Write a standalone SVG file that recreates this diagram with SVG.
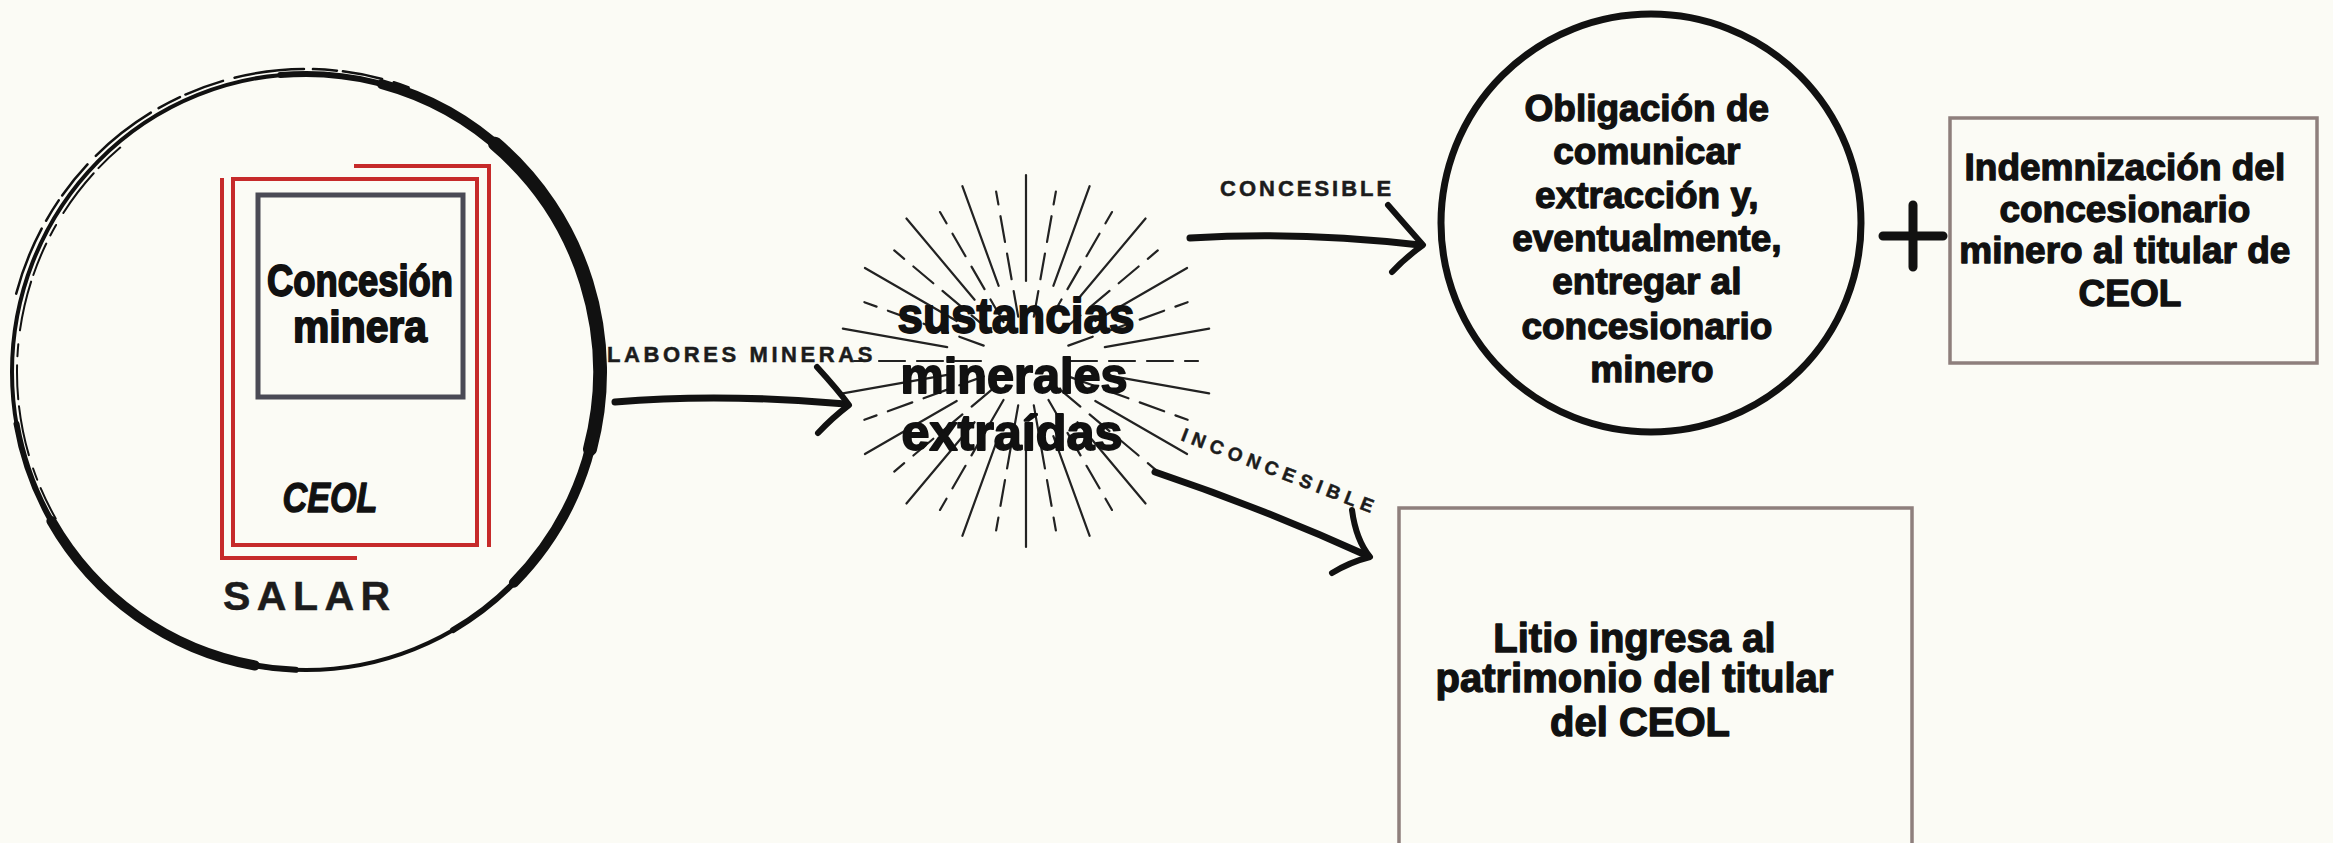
<svg xmlns="http://www.w3.org/2000/svg" width="2333" height="843" viewBox="0 0 2333 843">
<defs>
<style>
.bg{fill:#fbfbf5}
.hand{font-family:"Liberation Sans",Arial,sans-serif;font-weight:bold;fill:#111;text-anchor:middle;stroke:#111;stroke-width:1.3;stroke-linejoin:round}
.heavy{stroke-width:1.8}
.lbl{font-family:"Liberation Sans",Arial,sans-serif;font-weight:bold;fill:#1c1c1c;stroke:#1c1c1c;stroke-width:0.5}
.red{fill:none;stroke:#c62a2a;stroke-width:4}
.gray{fill:none;stroke:#4a4a55;stroke-width:5}
.box{fill:none;stroke:#8e7f7c;stroke-width:3.5}
.ray{stroke:#222;stroke-width:2.2;stroke-linecap:round;fill:none}
.dash{stroke-dasharray:26 12}
.shaft{fill:none;stroke:#111;stroke-width:7;stroke-linecap:round}
.head{fill:none;stroke:#111;stroke-width:6;stroke-linecap:round;stroke-linejoin:round}
.ink{fill:none;stroke:#111;stroke-linecap:round}
</style>
<line id="rs" x1="1026" y1="281" x2="1026" y2="175"/>
<line id="rd" x1="1026" y1="316" x2="1026" y2="189"/>
</defs>
<rect class="bg" x="0" y="0" width="2333" height="843"/>

<g id="salar">
<ellipse class="ink" cx="306" cy="372" rx="294" ry="298" stroke-width="4"/>
<path class="ink" stroke-width="6" d="M280.4,75.1 A294,298 0 0,1 453,630.1"/>
<path class="ink" stroke-width="10" d="M382.1,84.2 A294,298 0 0,1 513.9,582.7"/>
<path class="ink" stroke-width="14" d="M495,143.7 A294,298 0 0,1 590,449.1"/>
<path class="ink" stroke-width="6" d="M16.5,423.7 A294,298 0 0,0 295.7,669.8"/>
<path class="ink" stroke-width="10" d="M51.4,521 A294,298 0 0,0 255,665.5"/>
<path class="ink" stroke-width="2.5" stroke-dasharray="70 9 24 6 40 12" d="M16.2,293.6 A300,303 0 0,1 408.6,87.3"/>
<path class="ink" stroke-width="2" stroke-dasharray="34 9 12 14 50 7" d="M55.7,518.5 A289,293 0 0,1 120.2,147.6"/>
<text class="lbl" x="223" y="610" font-size="41" letter-spacing="6.5">SALAR</text>
</g>

<g id="ceol">
<path class="red" d="M354,166 H489 V547"/>
<path class="red" d="M222,178 V558 H357"/>
<rect class="red" x="233" y="179" width="244" height="366"/>
<text class="hand" x="330" y="512" font-size="42" font-style="italic" textLength="95" lengthAdjust="spacingAndGlyphs">CEOL</text>
</g>

<g id="concesion">
<rect class="gray" x="258" y="195" width="205" height="202"/>
<text class="hand heavy" x="360" y="296" font-size="44" textLength="186" lengthAdjust="spacingAndGlyphs">Concesión</text>
<text class="hand heavy" x="360" y="342" font-size="44" textLength="134" lengthAdjust="spacingAndGlyphs">minera</text>
</g>

<g id="sustancias">
<g class="ray">
<use href="#rs"/>
<use href="#rs" transform="rotate(20 1026 361)"/>
<use href="#rs" transform="rotate(40 1026 361)"/>
<use href="#rs" transform="rotate(60 1026 361)"/>
<use href="#rs" transform="rotate(80 1026 361)"/>
<use href="#rs" transform="rotate(100 1026 361)"/>
<use href="#rs" transform="rotate(120 1026 361)"/>
<use href="#rs" transform="rotate(140 1026 361)"/>
<use href="#rs" transform="rotate(160 1026 361)"/>
<use href="#rs" transform="rotate(180 1026 361)"/>
<use href="#rs" transform="rotate(200 1026 361)"/>
<use href="#rs" transform="rotate(220 1026 361)"/>
<use href="#rs" transform="rotate(240 1026 361)"/>
<use href="#rs" transform="rotate(260 1026 361)"/>
<use href="#rs" transform="rotate(280 1026 361)"/>
<use href="#rs" transform="rotate(300 1026 361)"/>
<use href="#rs" transform="rotate(320 1026 361)"/>
<use href="#rs" transform="rotate(340 1026 361)"/>
</g>
<g class="ray dash">
<use href="#rd" transform="rotate(10 1026 361)"/>
<use href="#rd" transform="rotate(30 1026 361)"/>
<use href="#rd" transform="rotate(50 1026 361)"/>
<use href="#rd" transform="rotate(70 1026 361)"/>
<use href="#rd" transform="rotate(90 1026 361)"/>
<use href="#rd" transform="rotate(110 1026 361)"/>
<use href="#rd" transform="rotate(130 1026 361)"/>
<use href="#rd" transform="rotate(150 1026 361)"/>
<use href="#rd" transform="rotate(170 1026 361)"/>
<use href="#rd" transform="rotate(190 1026 361)"/>
<use href="#rd" transform="rotate(210 1026 361)"/>
<use href="#rd" transform="rotate(230 1026 361)"/>
<use href="#rd" transform="rotate(250 1026 361)"/>
<use href="#rd" transform="rotate(270 1026 361)"/>
<use href="#rd" transform="rotate(290 1026 361)"/>
<use href="#rd" transform="rotate(310 1026 361)"/>
<use href="#rd" transform="rotate(330 1026 361)"/>
<use href="#rd" transform="rotate(350 1026 361)"/>
</g>
<text class="hand heavy" x="1016" y="333" font-size="50" textLength="237" lengthAdjust="spacingAndGlyphs">sustancias</text>
<text class="hand heavy" x="1014" y="393" font-size="50" textLength="227" lengthAdjust="spacingAndGlyphs">minerales</text>
<text class="hand heavy" x="1012" y="450" font-size="50" textLength="221" lengthAdjust="spacingAndGlyphs">extraídas</text>
</g>

<g id="obligacion">
<ellipse cx="1651" cy="223" rx="210" ry="209" fill="none" stroke="#111" stroke-width="7"/>
<text class="hand" font-size="37">
<tspan x="1652" y="121">Obligación de</tspan>
<tspan x="1652" y="164">comunicar</tspan>
<tspan x="1652" y="208">extracción y,</tspan>
<tspan x="1652" y="251">eventualmente,</tspan>
<tspan x="1652" y="294">entregar al</tspan>
<tspan x="1652" y="339">concesionario</tspan>
<tspan x="1652" y="382">minero</tspan>
</text>
</g>

<g id="plus">
<path class="ink" stroke-width="9" d="M1883,236 H1943 M1913,205 V267"/>
</g>

<g id="indemnizacion">
<rect class="box" x="1950" y="118" width="367" height="245"/>
<text class="hand" font-size="37">
<tspan x="2130" y="180">Indemnización del</tspan>
<tspan x="2130" y="222">concesionario</tspan>
<tspan x="2130" y="263">minero al titular de</tspan>
<tspan x="2130" y="306">CEOL</tspan>
</text>
</g>

<g id="litio">
<rect class="box" x="1399" y="508" width="513" height="360"/>
<text class="hand" font-size="40">
<tspan x="1640" y="652">Litio ingresa al</tspan>
<tspan x="1640" y="692">patrimonio del titular</tspan>
<tspan x="1640" y="736">del CEOL</tspan>
</text>
</g>

<g id="connectors">
<path class="shaft" d="M615,402 Q720,393 846,404"/>
<path class="head" d="M817,367 Q838,390 849,405 Q832,418 818,433"/>
<text class="lbl" x="607" y="362" font-size="22" letter-spacing="3.6">LABORES MINERAS</text>

<path class="shaft" d="M1190,238 Q1300,231 1420,245"/>
<path class="head" d="M1388,205 Q1408,228 1423,245 Q1405,258 1392,272"/>
<text class="lbl" x="1220" y="196" font-size="22" letter-spacing="3">CONCESIBLE</text>

<path class="shaft" d="M1155,472 Q1262,508 1368,556"/>
<path class="head" d="M1352,510 Q1356,540 1370,557 Q1350,562 1332,573"/>
<text class="lbl" x="1180" y="440" font-size="19" letter-spacing="5.5" transform="rotate(21 1180 440)">INCONCESIBLE</text>
</g>
</svg>
